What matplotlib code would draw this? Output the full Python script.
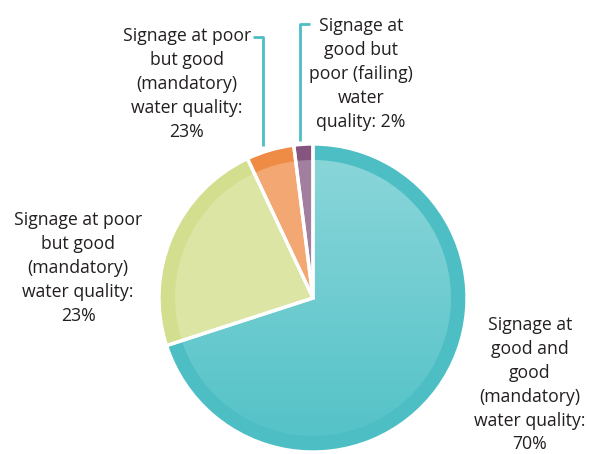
import numpy as np
import matplotlib
matplotlib.use("Agg")
import matplotlib.pyplot as plt

# slice values (percent), drawn clockwise from 12 o'clock
values = [70, 23, 5, 2]
ring_colors = ["#4dbfc4", "#d3de8e", "#ee8c45", "#85557f"]
inner_colors = ["#55c3c8", "#dce5a4", "#f3a873", "#a27f9e"]

labels = [
    "Signage at\ngood and\ngood\n(mandatory)\nwater quality:\n70%",
    "Signage at poor\nbut good\n(mandatory)\nwater quality:\n23%",
    "Signage at poor\nbut good\n(mandatory)\nwater quality:\n23%",
    "Signage at\ngood but\npoor (failing)\nwater\nquality: 2%",
]

W, H = 589, 454
fig = plt.figure(figsize=(W / 100, H / 100), dpi=100)
ax = fig.add_axes([0, 0, 1, 1])

cx, cy = 313, H - 298
R = 154
ring = 16

pie_kw = dict(startangle=90, counterclock=False, center=(cx, cy))
ax.pie(values, colors=ring_colors, radius=R,
       wedgeprops=dict(linewidth=0), **pie_kw)
inner, _ = ax.pie(values, colors=inner_colors, radius=R - ring,
                  wedgeprops=dict(linewidth=0), **pie_kw)

# light-from-above shading on the big slice
grad = np.zeros((200, 2, 4))
grad[..., :3] = 1.0
grad[..., 3] = np.linspace(0.31, 0.0, 200)[:, None]
img = ax.imshow(grad, extent=(cx - R, cx + R, cy - R + ring, cy + R - ring),
                origin="upper", aspect="auto", zorder=3, interpolation="bilinear")
img.set_clip_path(inner[0])

# white gaps between the slices, drawn over everything
gaps, _ = ax.pie(values, colors=["none"] * 4, radius=R,
                 wedgeprops=dict(edgecolor="white", linewidth=2.4), **pie_kw)
for g in gaps:
    g.set_zorder(4)

ax.set_xlim(0, W)
ax.set_ylim(0, H)
ax.set_aspect("equal")
ax.axis("off")

txt = dict(ha="center", va="top", fontsize=12.7, color="#231f20",
           family="Open Sans", linespacing=1.42)
ax.text(530, H - 316, labels[0], **txt)
ax.text(78, H - 211, labels[1], **txt)
ax.text(187, H - 27, labels[2], **txt)
ax.text(361, H - 17, labels[3], **txt)

# leader lines for the two small slices
lc = dict(color="#4dbfc4", lw=2, solid_capstyle="butt")
ax.plot([253, 263, 263], [H - 37, H - 37, H - 146], **lc)
ax.plot([310, 300, 300], [H - 24, H - 24, H - 141], **lc)

fig.savefig("out.png", dpi=100)
